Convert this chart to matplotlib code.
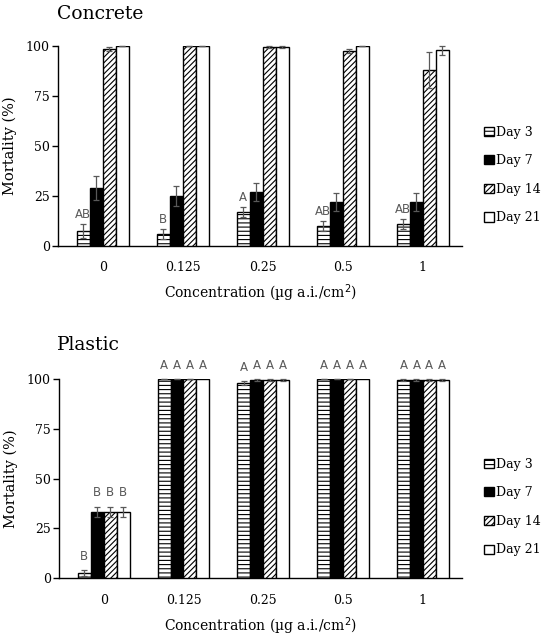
import numpy as np
import matplotlib
matplotlib.use("Agg")
import matplotlib.pyplot as plt

categories = ["0", "0.125", "0.25", "0.5", "1"]
series = ["Day 3", "Day 7", "Day 14", "Day 21"]

concrete_vals = {
    "Day 3": [7.5, 6.0, 17.0, 10.0, 11.0],
    "Day 7": [28.8, 25.0, 26.8, 22.0, 22.0],
    "Day 14": [98.5, 100.0, 99.5, 97.5, 88.0],
    "Day 21": [100.0, 100.0, 99.5, 100.0, 97.8],
}
concrete_err = {
    "Day 3": [3.5, 2.5, 2.5, 2.5, 2.5],
    "Day 7": [6.0, 5.0, 4.5, 4.3, 4.3],
    "Day 14": [1.0, 0.0, 0.3, 1.2, 9.0],
    "Day 21": [0.0, 0.0, 0.3, 0.0, 2.3],
}
concrete_letters = {
    "Day 3": ["AB", "B", "A", "AB", "AB"],
}

plastic_vals = {
    "Day 3": [2.5, 100.0, 98.0, 100.0, 99.5],
    "Day 7": [33.5, 100.0, 99.5, 100.0, 99.5],
    "Day 14": [33.5, 100.0, 99.5, 100.0, 99.5],
    "Day 21": [33.5, 100.0, 99.5, 100.0, 99.5],
}
plastic_err = {
    "Day 3": [1.5, 0.0, 1.0, 0.0, 0.5],
    "Day 7": [2.5, 0.0, 0.5, 0.0, 0.5],
    "Day 14": [2.5, 0.0, 0.5, 0.0, 0.5],
    "Day 21": [2.5, np.nan, 0.5, np.nan, 0.5],
}
plastic_letters = {
    "Day 3": ["B", "A", "A", "A", "A"],
    "Day 7": ["B", "A", "A", "A", "A"],
    "Day 14": ["B", "A", "A", "A", "A"],
    "Day 21": ["B", "A", "A", "A", "A"],
}

yticks = [0, 25, 50, 75, 100]
xlabel = "Concentration (µg a.i./cm$^2$)"
ylabel = "Mortality (%)"

styles = {
    "Day 3": dict(facecolor="white", hatch="----"),
    "Day 7": dict(facecolor="black", hatch=None),
    "Day 14": dict(facecolor="white", hatch="//////"),
    "Day 21": dict(facecolor="white", hatch=None),
}

plt.rcParams["hatch.linewidth"] = 0.8
plt.rcParams["font.family"] = ["DejaVu Serif"]

fig = plt.figure(figsize=(5.5, 6.41), dpi=100)

LETTER_COLOR = "#595959"
ERR_COLOR = "#595959"


def draw_panel(ax, vals, errs, letters, offset):
    x = np.arange(len(categories))
    w = 0.1625
    handles = []
    for i, s in enumerate(series):
        pos = x + (i - 1.5) * w
        st = styles[s]
        b = ax.bar(pos, vals[s], width=w, facecolor=st["facecolor"], hatch=st["hatch"],
                   edgecolor="black", linewidth=1.0, zorder=3, label=s)
        handles.append(b)
        ax.errorbar(pos, vals[s], yerr=errs[s], fmt="none", ecolor=ERR_COLOR,
                    elinewidth=0.9, capsize=2.5, capthick=0.9, zorder=4, clip_on=False)
        if s in letters:
            for j, lab in enumerate(letters[s]):
                e = errs[s][j]
                e = 0 if np.isnan(e) else e
                ax.text(pos[j], vals[s][j] + e + offset, lab, ha="center", va="center",
                        color=LETTER_COLOR, fontsize=8.5, family="DejaVu Sans", zorder=2)
    ax.set_xlim(-0.56, 4.49)
    ax.set_ylim(0, 100)
    ax.set_yticks(yticks)
    ax.set_xticks(x)
    ax.set_xticklabels(categories)
    for sp in ["top", "right"]:
        ax.spines[sp].set_visible(False)
    ax.spines["left"].set_linewidth(1.0)
    ax.spines["bottom"].set_linewidth(1.0)
    ax.tick_params(axis="x", length=0, pad=11, labelsize=9)
    ax.tick_params(axis="y", length=4, width=1.0, pad=2, labelsize=9, direction="out")
    ax.set_xlabel(xlabel, fontsize=10, labelpad=6)
    ax.set_ylabel(ylabel, fontsize=10.5, labelpad=6)
    return handles


ax1 = fig.add_axes([58 / 550, 1 - 246 / 641, (462 - 58) / 550, 200 / 641])
h1 = draw_panel(ax1, concrete_vals, concrete_err, concrete_letters, 4.8)
ax2 = fig.add_axes([59 / 550, 1 - 578.3 / 641, (462 - 59) / 550, 199.3 / 641])
h2 = draw_panel(ax2, plastic_vals, plastic_err, plastic_letters, 6.8)

for ax, yc in [(ax1, 175), (ax2, 507)]:
    ax.legend(loc="center left", bbox_to_anchor=(478 / 550, 1 - yc / 641),
              bbox_transform=fig.transFigure, frameon=False, fontsize=9,
              handlelength=0.75, handleheight=0.75, handletextpad=0.2,
              labelspacing=1.25, borderpad=0)

fig.text(57 / 550, 1 - 14 / 641, "Concrete", fontsize=13.5, va="center", ha="left")
fig.text(57 / 550, 1 - 345 / 641, "Plastic", fontsize=13.5, va="center", ha="left")

fig.savefig("out.png", dpi=100)
